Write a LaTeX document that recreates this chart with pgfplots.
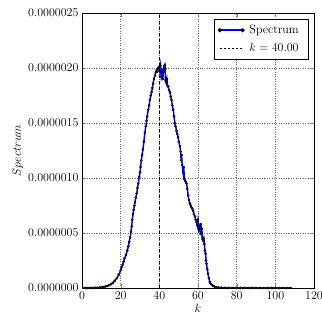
\documentclass[border=0pt]{standalone}
\usepackage{pgfplots}
\pgfplotsset{compat=1.18}
\pgfplotstableread{
k S
1 0.0000
2 0.0001
3 0.0002
4 0.0004
5 0.0008
6 0.0013
7 0.0020
8 0.0030
9 0.0045
10 0.0065
11 0.009
12 0.013
13 0.018
14 0.025
15 0.034
16 0.047
17 0.066
18 0.09
19 0.12
20 0.16
20.5 0.19
21 0.21
21.5 0.24
22 0.27
22.7 0.30
23.4 0.34
24 0.38
24.4 0.42
24.9 0.46
25.3 0.51
25.7 0.56
26 0.62
26.4 0.67
26.7 0.71
27.1 0.75
27.4 0.78
27.8 0.82
28.3 0.86
28.7 0.91
29.1 0.95
29.6 1.01
30 1.05
30.3 1.10
30.7 1.16
31.1 1.21
31.5 1.26
32 1.33
32.5 1.41
33 1.47
33.4 1.52
33.7 1.56
34.3 1.62
34.7 1.66
35.1 1.71
35.6 1.75
36 1.78
36.4 1.82
36.8 1.86
37.2 1.90
37.7 1.93
38.2 1.96
38.6 1.98
39 1.97
39.4 2.00
39.8 2.01
40.2 1.97
40.6 2.02
41.0 1.92
41.4 1.96
41.8 1.90
42.2 1.99
42.6 2.02
42.9 2.03
43.2 1.89
43.5 1.87
43.9 1.90
44.2 1.84
44.6 1.83
45.0 1.80
45.5 1.78
45.9 1.74
46.3 1.71
46.7 1.66
47.2 1.62
47.6 1.56
48.0 1.50
48.4 1.47
48.9 1.43
49.3 1.40
49.7 1.37
50.1 1.33
50.6 1.29
51.0 1.24
51.3 1.16
51.5 1.21
51.8 1.12
52.3 1.05
52.6 1.10
53.0 0.99
53.5 0.97
54.1 0.95
54.5 0.90
54.9 0.84
55.3 0.80
55.8 0.77
56.2 0.75
56.7 0.73
57.1 0.72
57.5 0.70
57.9 0.67
58.4 0.65
58.8 0.62
59.2 0.60
59.6 0.57
60.0 0.62
60.4 0.53
60.9 0.56
61.3 0.49
61.5 0.58
61.8 0.50
62.0 0.54
62.2 0.46
62.4 0.44
62.7 0.43
63.0 0.45
63.3 0.40
63.6 0.34
63.9 0.31
64.2 0.25
64.4 0.22
64.8 0.17
65.2 0.13
65.6 0.09
66.1 0.055
66.6 0.038
67.2 0.028
67.8 0.020
68.5 0.013
69.5 0.008
70.5 0.005
72 0.003
74 0.002
76 0.0015
78 0.001
80 0.0008
82 0.0006
84 0.0005
86 0.0004
88 0.0003
90 0.0003
92 0.0002
94 0.0002
96 0.0002
98 0.0001
100 0.0001
102 0.0001
104 0.0001
106 0.0001
108 0.0001
}\spec
\begin{document}
\begin{tikzpicture}
\path[use as bounding box] (-82pt,-28pt) rectangle (240pt,288pt);
\begin{axis}[
  scale only axis,
  width=232pt, height=275pt,
  xmin=0, xmax=120, ymin=0, ymax=2.5,
  xtick={0,20,40,60,80,100,120},
  ytick={0,0.5,1,1.5,2,2.5},
  yticklabels={0.0000000,0.0000005,0.0000010,0.0000015,0.0000020,0.0000025},
  tick label style={font=\fontsize{12}{14}\selectfont},
  grid=major,
  grid style={dotted, black!60},
  xlabel={$k$}, ylabel={$Spectrum$},
  label style={font=\fontsize{12}{14}\selectfont},
  xlabel style={yshift=2pt},
  ylabel style={yshift=-2pt},
  tick align=inside,
  legend style={at={(0.974,0.978)}, anchor=north east, draw=black,
    font=\fontsize{12}{14}\selectfont, row sep=4pt, inner xsep=4pt, inner ysep=4pt,
    nodes={inner xsep=5pt}},
  legend cell align=left,
]
\addplot[blue, line width=1.5pt, mark=*, mark size=1.1pt,
  mark options={black, fill=black!80, line width=0.4pt},
  legend image code/.code={
    \draw[blue, line width=1.5pt] (0cm,0cm) -- (0.8cm,0cm);
    \fill[black] (0cm,0cm) circle (1.2pt) (0.8cm,0cm) circle (1.2pt);
  }] table[x=k, y=S] {\spec};
\addlegendentry{Spectrum}
\addplot[black, dashed, line width=0.7pt,
  legend image code/.code={
    \draw[black, line width=0.7pt, dash pattern=on 2pt off 2pt] (0cm,0cm) -- (0.8cm,0cm);
  }] coordinates {(40,0) (40,2.5)};
\addlegendentry{$k = 40.00$}
\end{axis}
\end{tikzpicture}
\end{document}
